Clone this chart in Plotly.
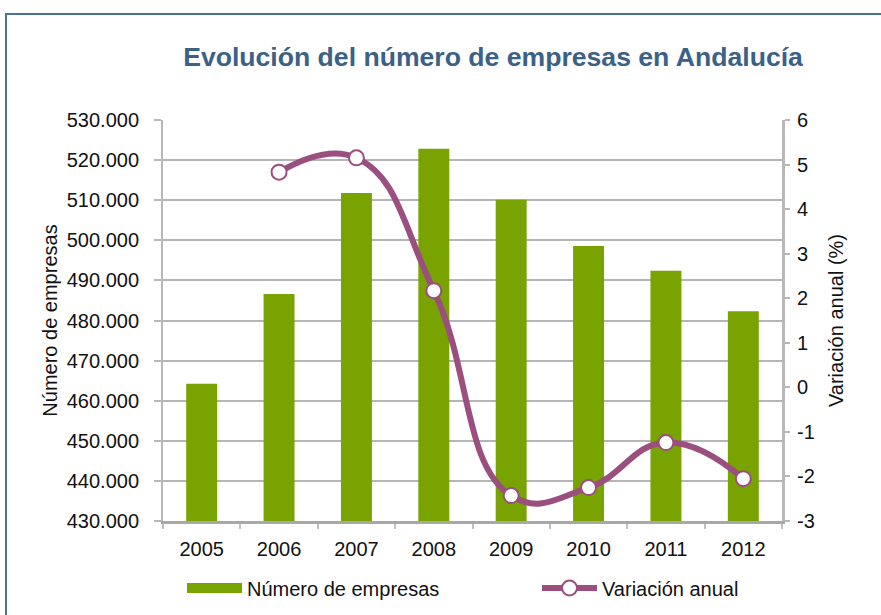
import plotly.graph_objects as go

years = ["2005", "2006", "2007", "2008", "2009", "2010", "2011", "2012"]
empresas = [464200, 486600, 511800, 522800, 510100, 498600, 492400, 482300]
variacion_years = ["2006", "2007", "2008", "2009", "2010", "2011", "2012"]
variacion = [4.83, 5.15, 2.17, -2.43, -2.25, -1.24, -2.05]

left_ticks = list(range(430000, 530001, 10000))
right_ticks = list(range(-3, 7))
right_labels = [str(v) for v in right_ticks]

FONT = "Liberation Sans, Arial, sans-serif"
GREEN = "#78a300"
PURPLE = "#9b4f7e"
GRID = "#b5b5b5"

fig = go.Figure()
fig.add_trace(go.Bar(
    x=years, y=empresas, name="Número de empresas",
    marker=dict(color=GREEN, line=dict(width=0)),
    width=0.40, yaxis="y", showlegend=False,
))
# legend-only entry drawn as a wide green swatch (no data points)
fig.add_trace(go.Scatter(
    x=[None], y=[None], name="Número de empresas",
    mode="lines", yaxis="y", legend="legend",
    line=dict(color=GREEN, width=11),
))
fig.add_trace(go.Scatter(
    x=variacion_years, y=variacion, name="Variación anual",
    mode="lines+markers", yaxis="y2", legend="legend2",
    line=dict(color=PURPLE, width=6, shape="spline", smoothing=1.3),
    marker=dict(size=15, color="white", line=dict(color=PURPLE, width=2)),
))

W, H = 881, 615
ml, mr, mt, mb = 163, 99, 120, 94
pw, ph = W - ml - mr, H - mt - mb

def px_x(x):
    return (x - ml) / pw

def px_y(y):
    return 1 - (y - mt) / ph

legend_common = dict(
    orientation="h", xanchor="left", yanchor="middle",
    itemwidth=55, font=dict(size=20), bgcolor="rgba(0,0,0,0)",
    borderwidth=0,
)

fig.update_layout(
    width=W, height=H,
    margin=dict(l=ml, r=mr, t=mt, b=mb, autoexpand=False),
    paper_bgcolor="white", plot_bgcolor="white",
    separators=",.",
    font=dict(family=FONT, size=20, color="#111111"),
    title=dict(
        text="<b>Evolución del número de empresas en Andalucía</b>",
        x=493 / W, xanchor="center", xref="container",
        y=1 - 57 / H, yanchor="middle",
        font=dict(family=FONT, size=26.6, color="#3b6186"),
    ),
    xaxis=dict(
        type="category", categoryorder="array", categoryarray=years,
        range=[-0.5, 7.5],
        showline=True, linecolor="#a8a8a8", linewidth=3,
        ticks="outside", tickson="boundaries", ticklen=5, tickcolor="#c0c0c0", tickwidth=2,
        showgrid=False, ticklabelstandoff=8,
        tickfont=dict(size=20),
    ),
    yaxis=dict(
        range=[430000, 530000], tickvals=left_ticks, tickformat=",d",
        showline=True, linecolor="#b8b8b8", linewidth=2,
        ticks="outside", ticklen=7, tickcolor="#b8b8b8", tickwidth=2,
        showgrid=True, gridcolor=GRID, gridwidth=2,
        zeroline=False, ticklabelstandoff=11,
        title=dict(text="Número de empresas", font=dict(size=20), standoff=4),
        tickfont=dict(size=20),
    ),
    yaxis2=dict(
        range=[-3, 6], tickvals=right_ticks, ticktext=right_labels,
        overlaying="y", side="right",
        showline=True, linecolor="#b8b8b8", linewidth=3,
        ticks="outside", ticklen=5, tickcolor="#b8b8b8", tickwidth=2,
        showgrid=False, zeroline=False, ticklabelstandoff=3,
        title=dict(text="Variación anual (%)", font=dict(size=20), standoff=16),
        tickfont=dict(size=20),
    ),
    showlegend=True,
    legend=dict(x=px_x(182), y=px_y(588), **legend_common),
    legend2=dict(x=px_x(537), y=px_y(588), **legend_common),
    shapes=[
        dict(type="rect", xref="paper", yref="paper",
             x0=px_x(6), x1=px_x(W + 20), y0=px_y(H + 20), y1=px_y(14),
             line=dict(color="#4a7196", width=2), fillcolor="rgba(0,0,0,0)",
             layer="below"),
    ],
)

fig.write_html("out.html", config={"displayModeBar": False},
               post_script="document.body.style.margin='0px';")
